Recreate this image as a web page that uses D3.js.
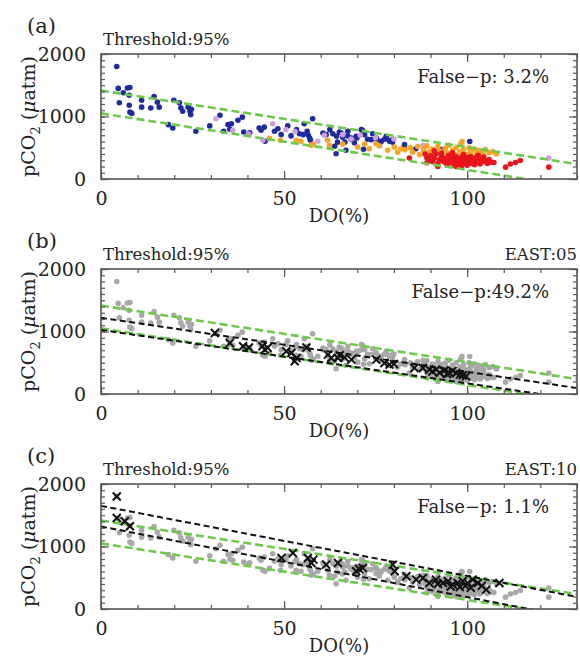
<!DOCTYPE html>
<html>
<head>
<meta charset="utf-8">
<script src="https://cdn.jsdelivr.net/npm/d3@7"></script>
<style>
  body { margin: 0; background: #fff; }
  text { font-family: "DejaVu Serif", serif; fill: #222; }
</style>
</head>
<body>
<div id="chart-area"></div>
<script>
// panel (a) points by group: [DO %, pCO2 uatm]
const bluePts = [[4.3,1800],[4.7,1450],[5.0,1220],[6.1,1380],[7.2,1455],[7.9,1465],[7.7,1340],[7.7,1180],[7.9,1070],[8.4,1050],
  [11.1,1260],[11.1,1150],[13.6,1135],[14.5,1320],[15.4,1230],[15.9,1150],[18.4,870],[19.6,815],[19.9,1260],[21.4,1220],
  [21.8,1140],[22.3,1085],[23.8,1150],[24.3,1085],[24.7,1115],[24.5,1030],[25.9,765],[29.7,850],[32.5,1020],[33.5,765],
  [34.7,870],[35.6,885],[35.2,795],[37.4,940],[38.6,990],[39,750],[40.6,740],[43.2,815],[43.7,780],[44.6,830],[44.8,605],
  [47.4,765],[48.3,805],[49.2,710],[51,850],[51.9,690],[53.4,790],[54.2,725],[55.2,710],[55.5,885],[56.3,765],[56.6,700],
  [57,655],[57.2,620],[57.8,965],[60.6,735],[61.5,710],[62.5,790],[63.3,725],[63.8,525],[64.2,405],[64.3,685],[64.6,590],
  [65.1,750],[65.6,735],[66,670],[66.6,590],[66.9,460],[67.4,690],[67.4,765],[68.3,635],[68.4,655],[69.2,580],[69.7,685],
  [69.9,655],[71.1,790],[71.4,780],[71.7,475],[72,710],[72.8,635],[73.8,630],[74.2,725],[75.2,655],[75.5,620],[76.4,590],
  [76.5,605],[77.4,635],[77.9,685],[78.7,620],[78.8,605],[79.6,590],[79.7,630],[82.8,510],[82.9,550],[86,485],[92.7,445],
  [92.9,470],[100.7,600]]
const pinkPts = [[31.4,965],[36,780],[40.3,720],[44.2,620],[46.9,885],[50.5,790],[53,760],[59.2,605],[61,700],[66,710],
  [68.3,640],[70.8,700],[75,660],[80,640],[88,540],[122.3,335]]
const orangePts = [[46,650],[49,620],[53.3,620],[54.6,605],[57.4,540],[58,560],[61.9,620],[62.4,540],[66,560],[70.1,510],
  [72,560],[73.3,485],[75.1,565],[76,530],[78.3,460],[80.1,510],[81,430],[81.9,485],[83,470],[84.5,500],[85.1,430],
  [86.5,520],[87,390],[88,470],[89,530],[89.5,430],[90.5,480],[91,400],[92,520],[92.5,450],[93,380],[94,490],[94.5,420],
  [95,540],[96,460],[96.5,390],[97,500],[98,430],[98.3,570],[98.6,600],[99,470],[100,390],[100.5,500],[101,440],[102,480],
  [102.5,400],[103,460],[104,430],[104.5,380],[105,470],[106,420],[107,440],[108,400]]
const redPts = [[84.2,335],[88.5,400],[89,340],[89,260],[89.5,300],[90,370],[90.5,280],[91,330],[91,450],[91.5,400],
  [92,250],[92,200],[92.5,310],[93,360],[93,410],[93.5,280],[94,330],[94,270],[94.5,230],[95,380],[95,300],[95.5,260],
  [96,340],[96,420],[96.5,220],[96.5,290],[97,360],[97,200],[97.5,250],[97.5,320],[98,280],[98.5,210],[98.5,350],
  [99,300],[99,250],[99,390],[99.5,330],[100,270],[100,220],[100,340],[100.5,310],[101,360],[101,250],[101.5,290],
  [102,230],[102,330],[102.5,270],[103,300],[103,380],[103.5,240],[104,320],[104,270],[104.5,350],[105,290],[105.5,250],
  [106,310],[106.5,270],[107.3,265],[110.5,190],[111.8,240],[113.2,265],[114.5,295],[122.3,190]]

// station subsets shown as crosses
const east05 = [[31.1,975],[35.2,815],[38.8,765],[40.4,745],[44.1,765],[44.7,710],[45.5,740],[50.6,685],[52,655],
  [52.9,525],[53.4,575],[56.1,745],[62,630],[62.9,575],[64.7,575],[65.2,620],[66.5,585],[68.4,550],[75.2,550],[77.4,495],
  [78.8,470],[80,480],[85.6,415],[87.9,415],[89.7,390],[90.5,360],[91.5,390],[92.5,340],[93.8,375],[94.5,320],[95.2,335],
  [96,370],[97,335],[98,310],[98.8,300],[99.7,285]]
const east10 = [[4.3,1800],[4.3,1455],[6.5,1405],[7.9,1325],[49.3,815],[52.4,895],[56.5,815],[57.5,735],[58,790],
  [61.5,710],[64.7,735],[69.7,605],[70.5,640],[71.5,655],[79.7,710],[80.2,605],[83.4,525],[86.1,470],[87.9,495],
  [89.7,415],[91.5,470],[92,400],[93.4,415],[94.7,445],[95.5,360],[96.1,390],[97.4,415],[98,350],[98.8,445],[99.5,370],
  [100.2,415],[101,340],[101.5,470],[102.9,415],[104,370],[105.2,310],[108.8,415]]

// threshold lines [intercept, slope]
const greenLines = [[1415, -9.05], [1050, -9.05]]
const east05Lines = [[1220, -8.65], [1025, -8.55]]
const east10Lines = [[1650, -11.2], [1320, -11.3]]

const panelLabels = ["(a)", "(b)", "(c)"]
const stationLabels = ["", "EAST:05", "EAST:10"]
const falseP = ["False\u2212p: 3.2%", "False\u2212p:49.2%", "False\u2212p: 1.1%"]

const X_DOMAIN = [0, 130]
const Y_DOMAIN = [0, 2000]

const MARGIN = { LEFT: 101, TOP: 54 }
const WIDTH = 476
const HEIGHT = 125
const STEP = 215

const allPts = bluePts.concat(pinkPts, orangePts, redPts)

const svg = d3.select("#chart-area").append("svg")
  .attr("width", 580)
  .attr("height", 657)

const x = d3.scaleLinear().domain(X_DOMAIN).range([0, WIDTH])
const y = d3.scaleLinear().domain(Y_DOMAIN).range([HEIGHT, 0])

svg.append("defs").append("clipPath")
  .attr("id", "plot-clip")
  .append("rect")
    .attr("width", WIDTH)
    .attr("height", HEIGHT)

function drawLines(g, lines, color, dash, width) {
  g.selectAll(null)
    .data(lines)
    .enter().append("line")
      .attr("clip-path", "url(#plot-clip)")
      .attr("x1", x(X_DOMAIN[0]))
      .attr("y1", d => y(d[0] + d[1] * X_DOMAIN[0]))
      .attr("x2", x(X_DOMAIN[1]))
      .attr("y2", d => y(d[0] + d[1] * X_DOMAIN[1]))
      .attr("stroke", color)
      .attr("stroke-width", width)
      .attr("stroke-dasharray", dash)
}

function drawDots(g, pts, color) {
  g.selectAll(null)
    .data(pts)
    .enter().append("circle")
      .attr("cx", d => x(d[0]))
      .attr("cy", d => y(d[1]))
      .attr("r", 2.8)
      .attr("fill", color)
}

function drawAxes(g) {
  const minorX = d3.range(0, 131, 10)
  const minorY = d3.range(0, 2001, 100)
  const axes = [
    [d3.axisBottom, `translate(0,${HEIGHT})`, x, true],
    [d3.axisTop, "translate(0,0)", x, false],
    [d3.axisLeft, "translate(0,0)", y, true],
    [d3.axisRight, `translate(${WIDTH},0)`, y, false]
  ]
  axes.forEach(([axisFn, tr, scale, labelled]) => {
    const isX = scale === x
    const minor = g.append("g").attr("transform", tr)
      .call(axisFn(scale).tickValues(isX ? minorX : minorY).tickSize(-4).tickFormat(""))
    const major = g.append("g").attr("transform", tr)
      .call(axisFn(scale).tickValues(isX ? [0, 50, 100] : [0, 1000, 2000])
        .tickSize(-8).tickPadding(isX ? 13 : 15)
        .tickFormat(labelled ? d3.format("d") : ""))
    ;[minor, major].forEach(a => {
      a.select(".domain").remove()
      a.selectAll("line").attr("stroke", "#555").attr("stroke-width", 1.2)
    })
    major.selectAll("text")
      .attr("font-family", "DejaVu Serif")
      .attr("font-size", "19px")
      .attr("fill", "#222")
  })
  g.append("rect")
    .attr("width", WIDTH)
    .attr("height", HEIGHT)
    .attr("fill", "none")
    .attr("stroke", "#555")
    .attr("stroke-width", 1.6)
}

function drawPanel(i) {
  const g = svg.append("g")
    .attr("transform", `translate(${MARGIN.LEFT}, ${MARGIN.TOP + i * STEP})`)

  if (i === 0) {
    drawDots(g, bluePts, "#1f2a9c")
    drawDots(g, pinkPts, "#cf9fe0")
    drawDots(g, orangePts, "#f7a52a")
    drawDots(g, redPts, "#e8141c")
  } else {
    drawDots(g, allPts, "#a8a8a8")
  }

  drawLines(g, greenLines, "#6cc94e", "8,4", 2.6)

  if (i > 0) {
    const crosses = i === 1 ? east05 : east10
    drawLines(g, i === 1 ? east05Lines : east10Lines, "#111", "6,3.5", 2)
    g.selectAll(null)
      .data(crosses)
      .enter().append("path")
        .attr("transform", d => `translate(${x(d[0])},${y(d[1])})`)
        .attr("d", "M-4,-4L4,4M-4,4L4,-4")
        .attr("stroke", "#111")
        .attr("stroke-width", 2)
        .attr("fill", "none")
  }

  drawAxes(g)

  g.append("text")
    .attr("x", -74)
    .attr("y", -21)
    .attr("font-size", "21px")
    .text(panelLabels[i])

  g.append("text")
    .attr("x", 2)
    .attr("y", -9)
    .attr("font-size", "16.5px")
    .text("Threshold:95%")

  g.append("text")
    .attr("x", WIDTH)
    .attr("y", -9)
    .attr("font-size", "16.5px")
    .attr("text-anchor", "end")
    .text(stationLabels[i])

  g.append("text")
    .attr("x", 448)
    .attr("y", 29)
    .attr("font-size", "18px")
    .attr("text-anchor", "end")
    .text(falseP[i])

  // X label
  g.append("text")
    .attr("x", WIDTH / 2)
    .attr("y", HEIGHT + 43)
    .attr("font-size", "18px")
    .attr("text-anchor", "middle")
    .text("DO(%)")

  // Y label
  const yl = g.append("text")
    .attr("transform", `translate(-66, ${HEIGHT / 2}) rotate(-90)`)
    .attr("font-size", "19px")
    .attr("text-anchor", "middle")
  yl.append("tspan").text("pCO")
  yl.append("tspan").attr("font-size", "13px").attr("dy", 5).text("2")
  yl.append("tspan").attr("dy", -5).text(" (")
  yl.append("tspan").attr("font-style", "italic").text("\u03bc")
  yl.append("tspan").text("atm)")
}

panelLabels.forEach((d, i) => drawPanel(i))
</script>
</body>
</html>
